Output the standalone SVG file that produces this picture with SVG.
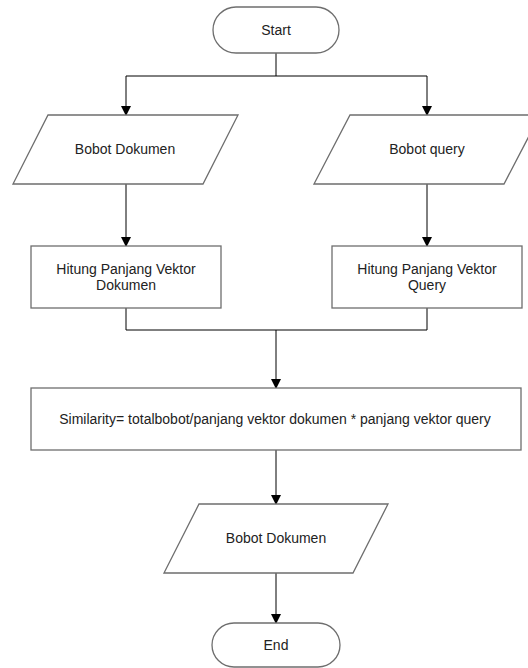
<svg xmlns="http://www.w3.org/2000/svg" width="528" height="668" viewBox="0 0 528 668">
<defs>
<marker id="arr" markerWidth="10" markerHeight="10" refX="9" refY="5" orient="auto" markerUnits="userSpaceOnUse">
<path d="M0,0 L10,5 L0,10 Z" fill="#000"/>
</marker>
<style>
.shape{fill:#fff;stroke:#6e6e6e;stroke-width:1.3}
.conn{fill:none;stroke:#000;stroke-width:1}
text{font-family:"Liberation Sans",Arial,sans-serif;font-size:14px;fill:#222;text-anchor:middle}
</style>
</defs>
<rect width="528" height="668" fill="#fff"/>
<g id="connectors">
<path class="conn" d="M276,53 V76"/>
<path class="conn" d="M126,76 H427"/>
<path class="conn" d="M126,76 V115" marker-end="url(#arr)"/>
<path class="conn" d="M427,76 V115" marker-end="url(#arr)"/>
<path class="conn" d="M126,184 V246" marker-end="url(#arr)"/>
<path class="conn" d="M427,184 V246" marker-end="url(#arr)"/>
<path class="conn" d="M126,308 V330 H427 V308"/>
<path class="conn" d="M276,330 V388" marker-end="url(#arr)"/>
<path class="conn" d="M276,450 V504" marker-end="url(#arr)"/>
<path class="conn" d="M276,573 V623" marker-end="url(#arr)"/>
</g>
<g id="start">
<rect class="shape" x="213" y="7" width="126" height="46" rx="23" ry="23"/>
<text x="276" y="35">Start</text>
</g>
<g id="bobot-dokumen">
<polygon class="shape" points="48,115 238,115 203,184 13,184"/>
<text x="125" y="154">Bobot Dokumen</text>
</g>
<g id="bobot-query">
<polygon class="shape" points="350,115 540,115 504,184 314,184"/>
<text x="427" y="154">Bobot query</text>
</g>
<g id="hitung-dokumen">
<rect class="shape" x="31" y="246" width="190" height="62"/>
<text x="126" y="274">Hitung Panjang Vektor</text>
<text x="126" y="290">Dokumen</text>
</g>
<g id="hitung-query">
<rect class="shape" x="332" y="246" width="190" height="62"/>
<text x="427" y="274">Hitung Panjang Vektor</text>
<text x="427" y="290">Query</text>
</g>
<g id="similarity">
<rect class="shape" x="31" y="388" width="490" height="62"/>
<text x="275" y="424">Similarity= totalbobot/panjang vektor dokumen * panjang vektor query</text>
</g>
<g id="bobot-dokumen-out">
<polygon class="shape" points="199,504 388,504 353,573 164,573"/>
<text x="276" y="543">Bobot Dokumen</text>
</g>
<g id="end">
<rect class="shape" x="212" y="623" width="128" height="44" rx="22" ry="22"/>
<text x="276" y="650">End</text>
</g>
</svg>
